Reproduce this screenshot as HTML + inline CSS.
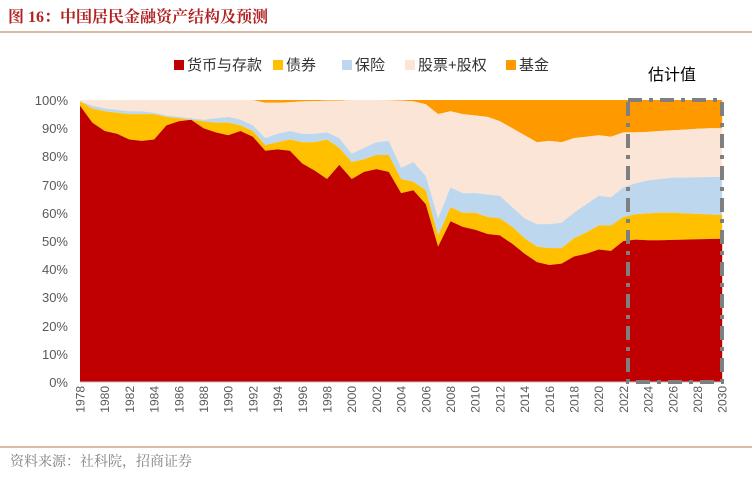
<!DOCTYPE html>
<html><head><meta charset="utf-8"><style>
body{margin:0;background:#fff;width:752px;height:480px;overflow:hidden;font-family:"Liberation Sans","Noto Sans CJK SC",sans-serif}
</style></head><body>
<svg id="s" width="752" height="480" xmlns="http://www.w3.org/2000/svg" font-family="Liberation Sans, Noto Sans CJK SC, sans-serif">
<text x="8" y="22" font-size="16" font-weight="bold" fill="#B22222" font-family="Liberation Serif, Noto Serif CJK SC, serif">图 16：中国居民金融资产结构及预测</text>
<line x1="0" y1="32" x2="752" y2="32" stroke="#B5764A" stroke-width="1"/>
<g id="areas"></g>
<line x1="80" y1="382" x2="722" y2="382" stroke="#bfbfbf"/>
<g font-size="13" fill="#595959" text-anchor="end">
<text x="68" y="387">0%</text><text x="68" y="359">10%</text><text x="68" y="331">20%</text><text x="68" y="302">30%</text><text x="68" y="274">40%</text><text x="68" y="246">50%</text><text x="68" y="218">60%</text><text x="68" y="190">70%</text><text x="68" y="161">80%</text><text x="68" y="133">90%</text><text x="68" y="105">100%</text>
</g>
<g font-size="12" fill="#595959" text-anchor="end" id="xt">
<text transform="translate(84.5,386) rotate(-90)">1978</text>
<text transform="translate(109.2,386) rotate(-90)">1980</text>
<text transform="translate(133.9,386) rotate(-90)">1982</text>
<text transform="translate(158.6,386) rotate(-90)">1984</text>
<text transform="translate(183.3,386) rotate(-90)">1986</text>
<text transform="translate(208,386) rotate(-90)">1988</text>
<text transform="translate(232.7,386) rotate(-90)">1990</text>
<text transform="translate(257.4,386) rotate(-90)">1992</text>
<text transform="translate(282.1,386) rotate(-90)">1994</text>
<text transform="translate(306.8,386) rotate(-90)">1996</text>
<text transform="translate(331.5,386) rotate(-90)">1998</text>
<text transform="translate(356.2,386) rotate(-90)">2000</text>
<text transform="translate(380.9,386) rotate(-90)">2002</text>
<text transform="translate(405.6,386) rotate(-90)">2004</text>
<text transform="translate(430.3,386) rotate(-90)">2006</text>
<text transform="translate(455,386) rotate(-90)">2008</text>
<text transform="translate(479.7,386) rotate(-90)">2010</text>
<text transform="translate(504.4,386) rotate(-90)">2012</text>
<text transform="translate(529.1,386) rotate(-90)">2014</text>
<text transform="translate(553.8,386) rotate(-90)">2016</text>
<text transform="translate(578.5,386) rotate(-90)">2018</text>
<text transform="translate(603.2,386) rotate(-90)">2020</text>
<text transform="translate(627.9,386) rotate(-90)">2022</text>
<text transform="translate(652.6,386) rotate(-90)">2024</text>
<text transform="translate(677.3,386) rotate(-90)">2026</text>
<text transform="translate(702,386) rotate(-90)">2028</text>
<text transform="translate(726.7,386) rotate(-90)">2030</text>
</g>
<rect x="628" y="100" width="94" height="282" fill="none" stroke="#7f7f7f" stroke-width="4" stroke-dasharray="14,7,4,7"/>
<text x="648" y="80" font-size="16" fill="#000">估计值</text>
<g font-size="15" fill="#333">
<rect x="174" y="60" width="10" height="10" fill="#C00000"/><text x="187" y="70">货币与存款</text>
<rect x="273" y="60" width="10" height="10" fill="#FFC000"/><text x="286" y="70">债券</text>
<rect x="342" y="60" width="10" height="10" fill="#BDD7EE"/><text x="355" y="70">保险</text>
<rect x="405" y="60" width="10" height="10" fill="#FBE5D6"/><text x="418" y="70">股票+股权</text>
<rect x="506" y="60" width="10" height="10" fill="#FF9900"/><text x="519" y="70">基金</text>
</g>
<line x1="0" y1="447" x2="752" y2="447" stroke="#B5764A" stroke-width="1"/>
<text x="10" y="466" font-size="14" fill="#7f7f7f" font-family="Liberation Serif, Noto Serif CJK SC, serif">资料来源：社科院，招商证券</text>
</svg>
<script>
(function(){
var red=[98,92,89,88,86,85.5,86,91,92.5,93,90,88.5,87.5,89,87,82,82.5,82,77.5,75,72,77,72,74.5,75.5,74.5,67,68,63,48,57,55,54,52.5,52,49,45.5,42.5,41.5,42,44.5,45.5,47,46.5,50,50.5,50.3,50.3,50.4,50.5,50.6,50.7,50.8];
var yel=[99.5,97,96,95.5,95,95,95,94,93.5,93,92.5,92,92,91,89,84,85,86,85,85,86,83,78,79,80.5,80.5,72,71,68,52,62,60,60,58.5,58,55,51,48,47.5,47.5,51,53,55.5,55.5,58.5,59.5,59.8,60,60,59.8,59.6,59.4,59.2];
var blu=[99.5,98,97,96.5,96,96,95.5,94.5,94,93.5,93,93.5,94,93,91,86.5,88,89,88,88,88.5,86.5,81,83,85,85.5,76,78,73,58,69,67,67,66.5,66,62,58,56,56,56.5,60,63,66,65.5,69,70.5,71.5,72,72.5,72.5,72.6,72.7,72.7];
var pnk=[100,100,100,100,100,100,100,100,100,100,100,100,100,100,100,99,99,99.2,99.5,99.6,99.7,99.8,100,100,100,99.9,99.8,99.5,98.5,95,96,95,94.5,94,92.5,90,87.5,85,85.5,85,86.5,87,87.5,87,88.5,88.5,88.7,89,89.3,89.5,89.8,90,90];
var n=red.length,full=[],zero=[];for(var i=0;i<n;i++){full.push(100);zero.push(0);}
function X(i){return 80+i*12.35}function Y(p){return 382-p*2.82}
var g=document.getElementById("areas");
function area(up,low,c){var d="";for(var i=0;i<n;i++)d+=(i?"L":"M")+X(i).toFixed(1)+","+Y(up[i]).toFixed(1);
for(var j=n-1;j>=0;j--)d+="L"+X(j).toFixed(1)+","+Y(low[j]).toFixed(1);
var p=document.createElementNS("http://www.w3.org/2000/svg","path");p.setAttribute("d",d+"Z");p.setAttribute("fill",c);g.appendChild(p);}
area(full,pnk,"#FF9900");area(pnk,blu,"#FBE5D6");area(blu,yel,"#BDD7EE");area(yel,red,"#FFC000");area(red,zero,"#C00000");
})();
</script>
</body></html>
